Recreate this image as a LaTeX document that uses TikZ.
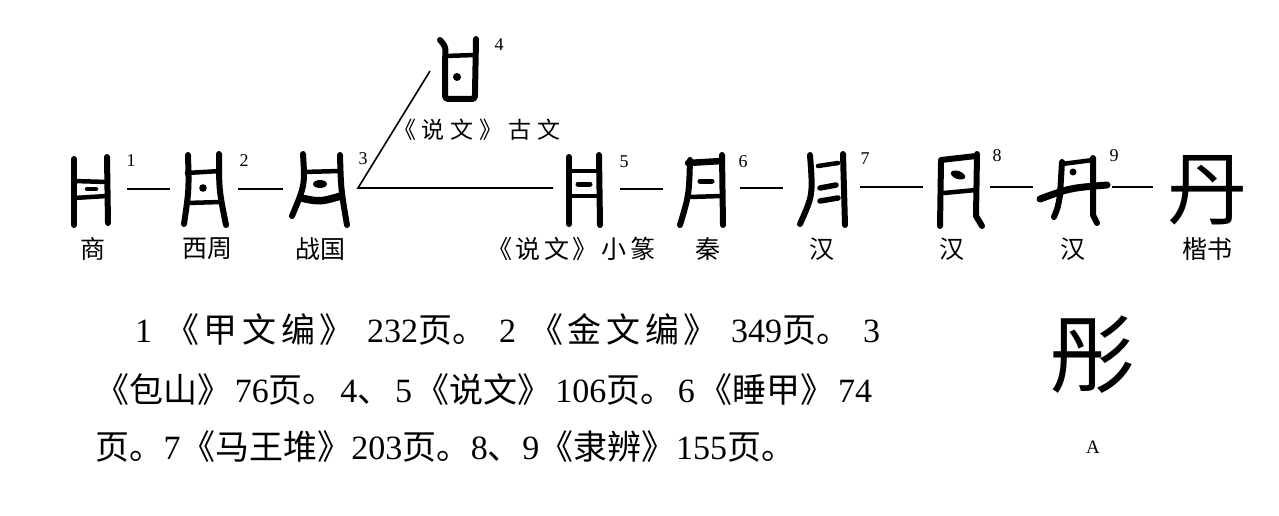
\documentclass[tikz,border=0pt]{standalone}
\usepackage{fontspec}
\setmainfont{Liberation Serif}
\newfontfamily\cjk{Noto Sans CJK SC}
\newcommand{\cj}[1]{{\cjk #1}}
\newcommand{\gs}{\hskip 0pt plus 1fil\relax}
\newcommand{\cs}{\hskip 0pt plus 0.35fil\relax}
\begin{document}
\begin{tikzpicture}[x=1pt,y=-1pt,
  stroke/.style={line width=6pt,line cap=round,line join=round},
  thin stroke/.style={line width=4.5pt,line cap=round,line join=round},
  conn/.style={line width=1.6pt},
  num/.style={font=\fontsize{18}{18}\selectfont,inner sep=0pt},
  lab/.style={font=\cjk\fontsize{25}{25}\selectfont,inner sep=0pt},
  para/.style={font=\fontsize{34}{34}\selectfont,inner sep=0pt,anchor=west}]
\useasboundingbox[fill=white] (0,0) rectangle (1279,516);

% ---- glyph 1 (Shang)
\draw[stroke] (74,159) -- (74,225);
\draw[stroke] (107,157) -- (108,223);
\draw[thin stroke] (74,181) -- (107,182);
\draw[thin stroke] (74,198) -- (107,196);
\draw[thin stroke] (87,189) -- (96,189);
% ---- glyph 2 (Western Zhou)
\draw[stroke] (188,155) .. controls (189,190) .. (184,224);
\draw[stroke] (219,154) .. controls (219,190) .. (226,225);
\draw[thin stroke] (187,173) -- (220,171);
\draw[thin stroke] (187,203) -- (221,202);
\fill (203,188) circle (3.8);
% ---- glyph 3 (Warring States)
\draw[stroke] (303,154) .. controls (305,185) .. (292,216);
\draw[stroke] (340,155) .. controls (341,190) .. (347,225);
\draw[thin stroke] (303,172) -- (340,171);
\draw[line width=7.5pt,line cap=round] (301,198) .. controls (320,202) .. (341,196);
\fill (320,184) ellipse [x radius=7, y radius=4];
% ---- glyph 4 (Shuowen guwen)
\draw[stroke] (440,40) .. controls (446,47) .. (445,60) -- (445,92)
   .. controls (445,99) .. (452,99) -- (469,99) .. controls (475,99) .. (475,92) -- (476,39);
\draw[thin stroke] (445,56) -- (475,55);
\fill (457,77) circle (4);
% ---- glyph 5 (xiaozhuan)
\draw[stroke] (569,157) -- (569,224);
\draw[stroke] (599,155) -- (600,225);
\draw[thin stroke] (569,171) -- (599,171);
\draw[thin stroke] (569,196) -- (599,196);
\draw[line width=5pt,line cap=round] (578,184) -- (590,184);
% ---- glyph 6 (Qin)
\draw[stroke] (690,160) .. controls (689,195) .. (680,225);
\draw[stroke] (722,155) -- (723,225);
\draw[line width=6.5pt,line cap=round] (688,163) -- (722,161);
\draw[line width=5pt,line cap=round] (700,181) -- (712,181);
\draw[thin stroke] (689,197) -- (722,196);
% ---- glyph 7 (Han)
\draw[stroke] (810,155) .. controls (813,195) .. (800,224);
\draw[stroke] (843,154) -- (845,225);
\draw[thin stroke] (818,166) -- (838,163);
\draw[line width=5.5pt,line cap=round] (820,188) -- (836,185);
\draw[line width=5.5pt,line cap=round] (820,201) -- (838,198);
% ---- glyph 8 (Han)
\draw[stroke] (941,162) -- (940,226);
\draw[stroke] (941,160) -- (976,156);
\draw[stroke] (977,154) -- (976,216) -- (982,226);
\fill[rotate around={-20:(958,175)}] (958,175) ellipse [x radius=7.5, y radius=4];
\draw[thin stroke] (944,193) -- (976,190);
% ---- glyph 9 (Han)
\draw[thin stroke] (1062,164) -- (1093,160);
\fill (1073,172) circle (3.5);
\draw[stroke] (1062,162) -- (1060,195) .. controls (1058,207) .. (1054,217);
\draw[stroke] (1093,158) -- (1093,215) -- (1097,223);
\draw[line width=7pt,line cap=round] (1040,199) .. controls (1070,188) .. (1107,185);
% ---- kaishu
\node[font=\cjk\fontsize{80}{80}\selectfont,inner sep=0pt] (kai) at (1207,190) {丹};

% ---- numbers
\node[num] (n1) at (131,161) {1};
\node[num] (n2) at (244,161) {2};
\node[num] (n3) at (363,159) {3};
\node[num] (n4) at (499,45) {4};
\node[num] (n5) at (624,162) {5};
\node[num] (n6) at (743,162) {6};
\node[num] (n7) at (865,159) {7};
\node[num] (n8) at (997,156) {8};
\node[num] (n9) at (1114,156) {9};

% ---- connectors
\coordinate (a1) at (127,189); \coordinate (b1) at (170,189);
\coordinate (a2) at (238,189); \coordinate (b2) at (283,189);
\coordinate (a3) at (358,188); \coordinate (b3) at (553,188);
\coordinate (t3) at (430,71);
\coordinate (a5) at (620,189); \coordinate (b5) at (663,189);
\coordinate (a6) at (740,188); \coordinate (b6) at (783,188);
\coordinate (a7) at (860,187); \coordinate (b7) at (923,187);
\coordinate (a8) at (990,187); \coordinate (b8) at (1033,187);
\coordinate (a9) at (1112,187); \coordinate (b9) at (1153,187);
\draw[conn] (a1) -- (b1);
\draw[conn] (a2) -- (b2);
\draw[conn] (t3) -- (a3) -- (b3);
\draw[conn] (a5) -- (b5);
\draw[conn] (a6) -- (b6);
\draw[conn] (a7) -- (b7);
\draw[conn] (a8) -- (b8);
\draw[conn] (a9) -- (b9);

% ---- labels
\node[font=\cjk\fontsize{23}{23}\selectfont,inner sep=0pt] (gw) at (477,130)
  {\hbox to 168pt{\cj{《}\hfil\cj{说}\hfil\cj{文}\hfil\cj{》}\hfil\cj{古}\hfil\cj{文}}};
\node[lab] (l1) at (93,249) {商};
\node[lab] (l2) at (207,249) {西周};
\node[lab] (l3) at (320,249) {战国};
\node[lab] (l4) at (571,249) {\hbox to 168pt{\cj{《}\hfil\cj{说}\hfil\cj{文}\hfil\cj{》}\hfil\cj{小}\hfil\cj{篆}}};
\node[lab] (l5) at (708,249) {秦};
\node[lab] (l6) at (822,249) {汉};
\node[lab] (l7) at (952,249) {汉};
\node[lab] (l8) at (1073,249) {汉};
\node[lab] (l9) at (1207,249) {楷书};

% ---- paragraph
\node[para] (p1) at (135,330) {\hbox to 745pt{1\gs\cj{《}\cs\cj{甲}\cs\cj{文}\cs\cj{编}\cs\cj{》}\gs 232\cj{页。}\gs 2\gs\cj{《}\cs\cj{金}\cs\cj{文}\cs\cj{编}\cs\cj{》}\gs 349\cj{页。}\gs 3}};
\node[para] (p2) at (95,390) {\hbox to 777pt{\cj{《包山》}\gs 76\cj{页。}\gs 4\cj{、}\gs 5\gs\cj{《说文》}\gs 106\cj{页。}\gs 6\gs\cj{《睡甲》}\gs 74}};
\node[para] (p3) at (95,447) {\hbox to 700pt{\cj{页。}\gs 7\gs\cj{《马王堆》}\gs 203\cj{页。}\gs 8\cj{、}\gs 9\gs\cj{《隶辨》}\gs 155\cj{页。}}};

% ---- A
\node[font=\cjk\fontsize{86}{86}\selectfont,inner sep=0pt] (tong) at (1092,355) {彤};
\node[font=\fontsize{19}{19}\selectfont,inner sep=0pt] (A) at (1093,447) {A};
\end{tikzpicture}
\end{document}
